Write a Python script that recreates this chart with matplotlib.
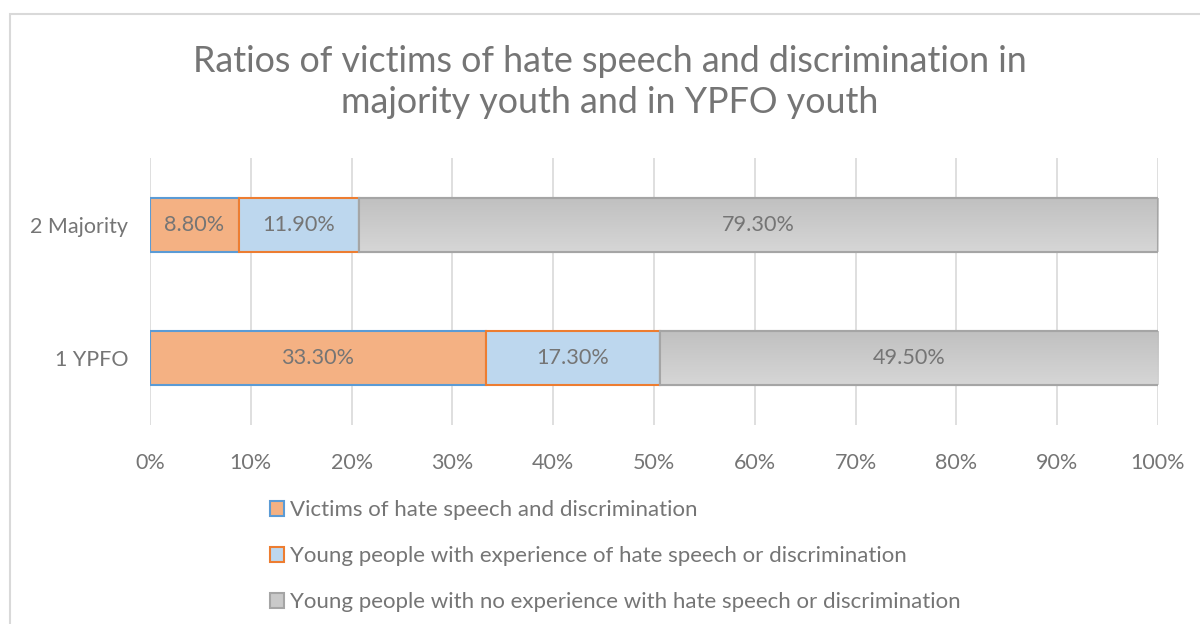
import matplotlib

matplotlib.use("Agg")
import matplotlib.pyplot as plt
import matplotlib.patches as mpatches
import numpy as np

plt.rcParams["font.family"] = ["Lato", "DejaVu Sans"]

categories = ["1 YPFO", "2 Majority"]
series_names = [
    "Victims of hate speech and discrimination",
    "Young people with experience of hate speech or discrimination",
    "Young people with no experience with hate speech or discrimination",
]
victims = [0.333, 0.088]
experience = [0.173, 0.119]
no_experience = [0.495, 0.793]
title = "Ratios of victims of hate speech and discrimination in\nmajority youth and in YPFO youth"

TEXT = "#757575"
fills = ["#F4B183", "#BDD7EE", "#C9C9C9"]
edges = ["#5B9BD5", "#ED7D31", "#A5A5A5"]

fig = plt.figure(figsize=(12, 6.24), dpi=100)
ax = fig.add_axes([0.125, 0.319, 0.84, 0.428])

# chart border (cropped by the image edges)
fig.patches.append(
    mpatches.Rectangle(
        (10 / 1200, -0.1), 1.2, 1 - 14 / 624 + 0.1,
        transform=fig.transFigure, fill=False, edgecolor="#D9D9D9", lw=1.5, zorder=0,
    )
)

y = np.arange(len(categories))
left = np.zeros(len(categories))
gray_cmap = matplotlib.colors.LinearSegmentedColormap.from_list("g", ["#D6D6D6", "#C0C0C0"])
for vals, fc, ec in zip([victims, experience, no_experience], fills, edges):
    bars = ax.barh(y, vals, left=left, height=0.405, color=fc, edgecolor=ec, lw=1.5, zorder=3)
    for b, v in zip(bars, vals):
        if fc == "#C9C9C9":
            x0, y0 = b.get_x(), b.get_y()
            im = ax.imshow(
                np.linspace(0, 1, 50).reshape(-1, 1), cmap=gray_cmap, aspect="auto",
                extent=(x0, x0 + b.get_width(), y0 + b.get_height(), y0),
                origin="upper", zorder=3.5,
            )
            im.set_clip_path(b)
            ax.add_patch(mpatches.Rectangle((x0, y0), b.get_width(), b.get_height(),
                                            fill=False, edgecolor=ec, lw=1.5, zorder=4))
        ax.text(b.get_x() + b.get_width() / 2, b.get_y() + b.get_height() / 2,
                f"{v * 100:.2f}%", ha="center", va="center", fontsize=15.6,
                color=TEXT, zorder=5)
    left = left + np.array(vals)

ax.set_xlim(0, 1)
ax.set_ylim(-0.5, 1.5)
ax.set_xticks(np.arange(0, 1.01, 0.1))
ax.set_xticklabels([f"{int(round(t * 100))}%" for t in np.arange(0, 1.01, 0.1)])
ax.set_yticks(y)
ax.set_yticklabels(categories)
ax.tick_params(axis="both", length=0, labelsize=15.5, labelcolor=TEXT)
ax.tick_params(axis="x", pad=20)
ax.tick_params(axis="y", pad=15.5)
ax.grid(axis="x", color="#D9D9D9", lw=1.2, zorder=0)
ax.set_axisbelow(True)
for s in ax.spines.values():
    s.set_visible(False)

fig.text(0.508, 1 - 82 / 624, title, ha="center", va="center", fontsize=25.8,
         color=TEXT, linespacing=1.3)

handles = [mpatches.Patch(facecolor=fc, edgecolor=ec, lw=1.5) for fc, ec in zip(fills, edges)]
fig.legend(handles, series_names, loc="upper left", bbox_to_anchor=(270 / 1200, 1 - 500 / 624),
           frameon=False, fontsize=16, labelcolor=TEXT, handlelength=0.65, handleheight=0.65,
           handletextpad=0.25, labelspacing=1.17, borderaxespad=0, borderpad=0)

fig.savefig("out.png", dpi=100, facecolor="white")
